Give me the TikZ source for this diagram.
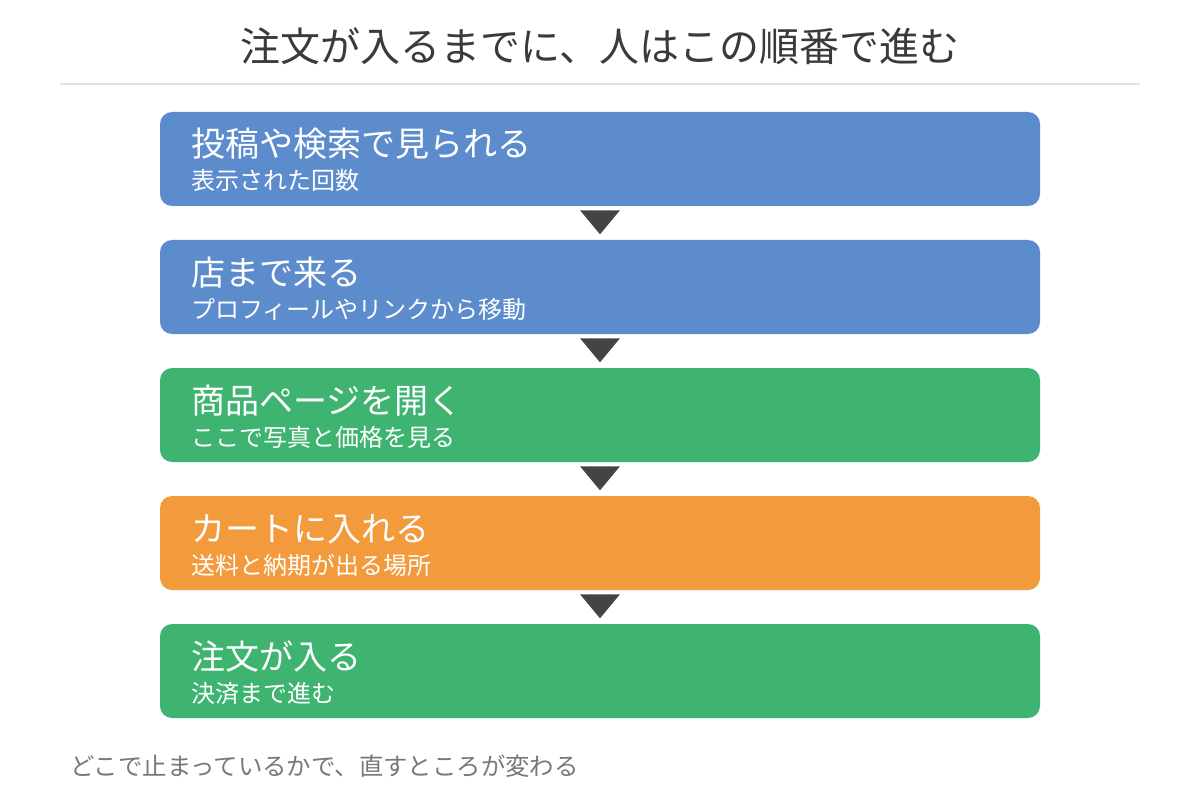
\documentclass[tikz,border=0pt]{standalone}
\usepackage{fontspec}
\setmainfont{Noto Sans CJK JP}
\usepackage{tikz}
\usetikzlibrary{calc}

\definecolor{flowblue}{RGB}{93,140,205}
\definecolor{flowgreen}{RGB}{62,180,112}
\definecolor{floworange}{RGB}{242,154,60}
\definecolor{arrowgray}{RGB}{68,68,68}
\definecolor{titlegray}{RGB}{58,58,58}
\definecolor{notegray}{RGB}{120,120,120}
\definecolor{rulegray}{RGB}{226,226,226}

\tikzset{
  stepbox/.style={rounded corners=9pt, minimum width=660pt, minimum height=70.5pt, inner sep=0pt},
  headtxt/.style={anchor=base west, inner sep=0pt, text=white, font=\fontsize{25.5pt}{28pt}\selectfont},
  subtxt/.style={anchor=base west, inner sep=0pt, text=white, font=\fontsize{18pt}{20pt}\selectfont},
  downtri/.style={fill=arrowgray}
}

\begin{document}
\begin{tikzpicture}[x=0.75pt, y=-0.75pt]
\useasboundingbox (0,0) rectangle (1200,806);
\fill[white] (0,0) rectangle (1200,806);

% title
\node[anchor=base, inner sep=0pt, text=titlegray, font=\fontsize{30pt}{33pt}\selectfont] (title) at (600,62) {注文が入るまでに、人はこの順番で進む};
\draw[rulegray, line width=1.5pt] (60,84) -- (1140,84);

% steps
\node[stepbox, fill=flowblue] (s1) at (600,159) {};
\node[headtxt] (h1) at (191,157) {投稿や検索で見られる};
\node[subtxt] (t1) at (191,190) {表示された回数};

\node[stepbox, fill=flowblue] (s2) at (600,287) {};
\node[headtxt] (h2) at (191,285) {店まで来る};
\node[subtxt] (t2) at (191,318) {プロフィールやリンクから移動};

\node[stepbox, fill=flowgreen] (s3) at (600,415) {};
\node[headtxt] (h3) at (191,413) {商品ページを開く};
\node[subtxt] (t3) at (191,446) {ここで写真と価格を見る};

\node[stepbox, fill=floworange] (s4) at (600,543) {};
\node[headtxt] (h4) at (191,541) {カートに入れる};
\node[subtxt] (t4) at (191,574) {送料と納期が出る場所};

\node[stepbox, fill=flowgreen] (s5) at (600,671) {};
\node[headtxt] (h5) at (191,669) {注文が入る};
\node[subtxt] (t5) at (191,702) {決済まで進む};

% arrows between steps
\foreach \i in {1,2,3,4}
  \fill[downtri] ($(s\i.south)+(-20,4)$) -- ($(s\i.south)+(20,4)$) -- ($(s\i.south)+(0,28)$) -- cycle;

% note
\node[anchor=base west, inner sep=0pt, text=notegray, font=\fontsize{18.3pt}{20pt}\selectfont] (note) at (70,775) {どこで止まっているかで、直すところが変わる};
\end{tikzpicture}
\end{document}
